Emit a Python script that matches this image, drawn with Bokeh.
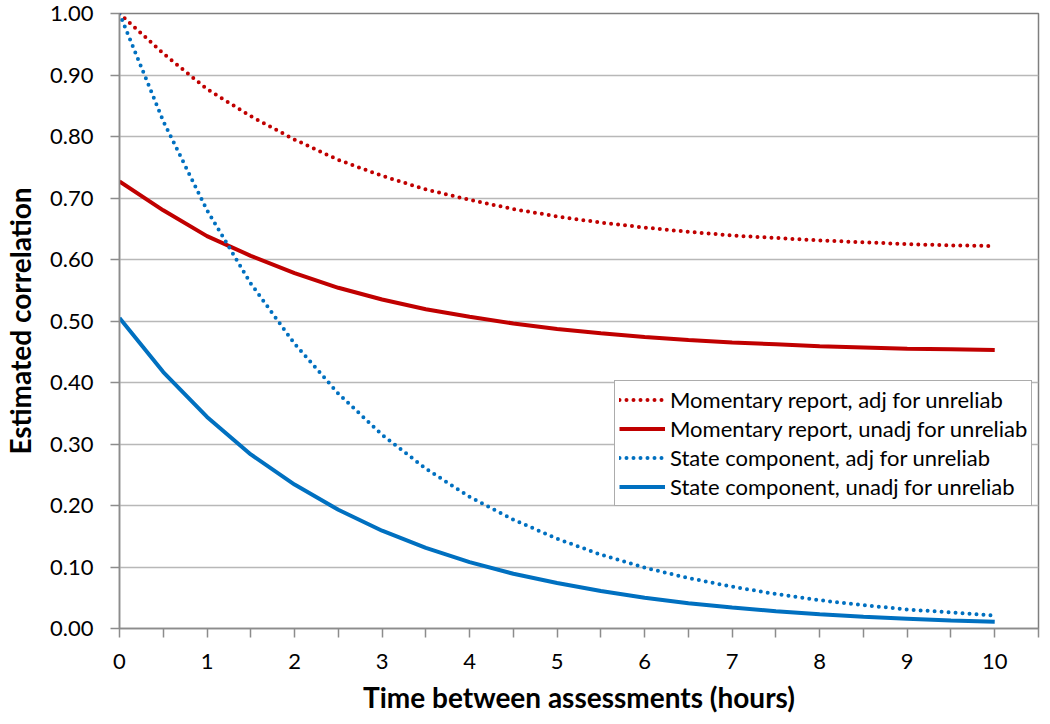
from bokeh.plotting import figure
from bokeh.models import Range1d, FixedTicker, NumeralTickFormatter, Legend, LegendItem, ColumnDataSource
from bokeh.embed import file_html
from bokeh.resources import INLINE

hours = [0, 0.5, 1, 1.5, 2, 2.5, 3, 3.5, 4, 4.5, 5, 5.5, 6, 6.5, 7, 7.5, 8, 8.5, 9, 9.5, 10]
momentary_adj = [1.000, 0.935, 0.877, 0.833, 0.795, 0.762, 0.736, 0.714, 0.697, 0.682, 0.670,
                 0.660, 0.652, 0.645, 0.639, 0.635, 0.631, 0.628, 0.625, 0.623, 0.622]
momentary_unadj = [0.727, 0.680, 0.638, 0.606, 0.578, 0.554, 0.535, 0.519, 0.507, 0.496, 0.487,
                   0.480, 0.474, 0.469, 0.465, 0.462, 0.459, 0.457, 0.455, 0.454, 0.453]
state_adj = [1.000, 0.825, 0.680, 0.561, 0.463, 0.382, 0.315, 0.260, 0.214, 0.177, 0.146,
             0.120, 0.099, 0.082, 0.068, 0.056, 0.046, 0.038, 0.031, 0.026, 0.021]
state_unadj = [0.505, 0.417, 0.344, 0.283, 0.234, 0.193, 0.159, 0.131, 0.108, 0.089, 0.074,
               0.061, 0.050, 0.041, 0.034, 0.028, 0.023, 0.019, 0.016, 0.013, 0.011]

labels = ["Momentary report, adj for unreliab", "Momentary report, unadj for unreliab",
          "State component, adj for unreliab", "State component, unadj for unreliab"]
x_ticks = [0, 1, 2, 3, 4, 5, 6, 7, 8, 9, 10]
x_minor = [0.5, 1.5, 2.5, 3.5, 4.5, 5.5, 6.5, 7.5, 8.5, 9.5, 10.5]
y_ticks = [0.0, 0.1, 0.2, 0.3, 0.4, 0.5, 0.6, 0.7, 0.8, 0.9, 1.0]

RED = "#C00000"
BLUE = "#0070C0"
FONT = "Lato"

p = figure(width=1042, height=720, output_backend="svg", toolbar_location=None,
           x_range=Range1d(0, 10.5), y_range=Range1d(0, 1.0),
           min_border_left=119, min_border_top=13, min_border_right=4, min_border_bottom=92)
p.outline_line_color = "#7f7f7f"
p.outline_line_width = 1.5
p.background_fill_color = "white"
p.border_fill_color = "white"

p.xgrid.visible = False
p.ygrid.grid_line_color = "#b8b8b8"
p.ygrid.grid_line_width = 1.5

src = ColumnDataSource(dict(x=hours, ma=momentary_adj, mu=momentary_unadj, sa=state_adj, su=state_unadj))

r1 = p.line("x", "ma", source=src, line_color=RED, line_width=4, line_dash="0 7", line_cap="round")
r2 = p.line("x", "mu", source=src, line_color=RED, line_width=4)
r3 = p.line("x", "sa", source=src, line_color=BLUE, line_width=4, line_dash="0 7", line_cap="round")
r4 = p.line("x", "su", source=src, line_color=BLUE, line_width=4)

for ax in (p.xaxis[0], p.yaxis[0]):
    ax.axis_line_color = "#8c8c8c"
    ax.axis_line_width = 1.5
    ax.major_tick_line_color = "#8c8c8c"
    ax.minor_tick_line_color = "#8c8c8c"
    ax.major_tick_line_width = 1.5
    ax.minor_tick_line_width = 1.5
    ax.major_tick_out = 9
    ax.major_tick_in = 0
    ax.minor_tick_out = 9
    ax.minor_tick_in = 0
    ax.major_label_text_font = FONT
    ax.major_label_text_font_size = "22px"
    ax.major_label_text_color = "black"
    ax.axis_label_text_font = FONT
    ax.axis_label_text_font_size = "28px"
    ax.axis_label_text_font_style = "bold"
    ax.axis_label_text_color = "black"

p.xaxis[0].ticker = FixedTicker(ticks=x_ticks, minor_ticks=x_minor)
p.xaxis[0].axis_label = "Time between assessments (hours)"
p.xaxis[0].major_label_standoff = 16
p.xaxis[0].axis_label_standoff = 8

p.yaxis[0].ticker = FixedTicker(ticks=y_ticks, minor_ticks=[])
p.yaxis[0].formatter = NumeralTickFormatter(format="0.00")
p.yaxis[0].axis_label = "Estimated correlation"
p.yaxis[0].major_label_standoff = 17
p.yaxis[0].axis_label_standoff = 10
p.yaxis[0].minor_tick_out = 0

legend = Legend(items=[LegendItem(label=labels[0], renderers=[r1]),
                       LegendItem(label=labels[1], renderers=[r2]),
                       LegendItem(label=labels[2], renderers=[r3]),
                       LegendItem(label=labels[3], renderers=[r4])],
                location=(495, 122))
legend.border_line_color = "#595959"
legend.border_line_width = 1.5
legend.background_fill_color = "white"
legend.background_fill_alpha = 1
legend.padding = 4
legend.spacing = 0
legend.margin = 0
legend.glyph_width = 46
legend.glyph_height = 29
legend.label_height = 29
legend.label_standoff = 5
legend.label_text_font = FONT
legend.label_text_font_size = "22px"
legend.label_text_color = "black"
legend.label_text_baseline = "middle"
p.add_layout(legend)

open("out.html", "w").write(file_html(p, INLINE))
